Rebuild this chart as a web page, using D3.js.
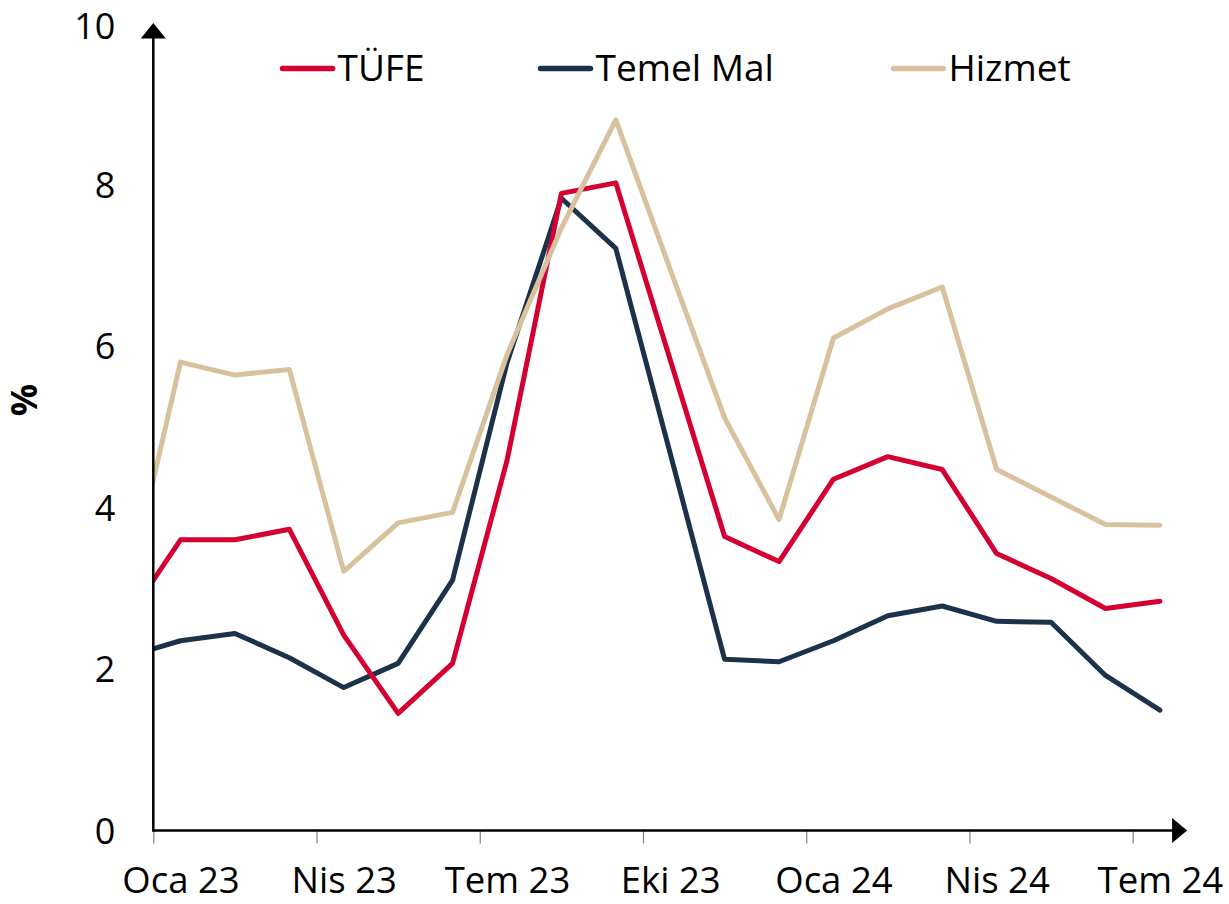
<!DOCTYPE html>
<html><head><meta charset="utf-8">
<script src="https://cdn.jsdelivr.net/npm/d3@7"></script>
<style>
body{margin:0;background:#fff}
svg text{font-family:"Open Sans",sans-serif;fill:#000}
</style>
</head><body>
<svg id="chart" width="1229" height="904"></svg>
<script>
// ---- data ----
const months = ["Ara 22","Oca 23","Şub 23","Mar 23","Nis 23","May 23","Haz 23","Tem 23","Ağu 23","Eyl 23","Eki 23","Kas 23","Ara 23","Oca 24","Şub 24","Mar 24","Nis 24","May 24","Haz 24","Tem 24"];
const tufe     = [2.60, 3.60, 3.60, 3.73, 2.42, 1.45, 2.07, 4.58, 7.89, 8.02, 5.83, 3.64, 3.33, 4.35, 4.63, 4.47, 3.43, 3.12, 2.75, 2.84];
const temelMal = [2.15, 2.35, 2.44, 2.14, 1.77, 2.07, 3.10, 5.79, 7.83, 7.21, 4.67, 2.12, 2.09, 2.35, 2.66, 2.78, 2.59, 2.58, 1.92, 1.49];
const hizmet   = [2.88, 5.80, 5.64, 5.71, 3.21, 3.81, 3.94, 5.89, 7.46, 8.80, 6.95, 5.11, 3.85, 6.10, 6.46, 6.73, 4.47, 4.13, 3.79, 3.78];
const yTicks = [0, 2, 4, 6, 8, 10];
const xLabels = ["Oca 23","Nis 23","Tem 23","Eki 23","Oca 24","Nis 24","Tem 24"];
const seriesNames = ["TÜFE","Temel Mal","Hizmet"];
const seriesColors = ["#D50032","#1C3249","#D8C29E"];
const yTitle = "%";

// ---- scales ----
const svg = d3.select("#chart");
const plotMonths = months.slice(1);             // visible categories (Oca 23 .. Tem 24)
const idx = m => plotMonths.indexOf(m);          // Ara 22 -> -1 (clipped at the axis)
const x = d3.scaleLinear().domain([-0.5, plotMonths.length - 0.5]).range([153.3, 1187.1]);
const y = d3.scaleLinear().domain([0, 10]).range([830.5, 23]);
const x0 = x.range()[0], x1 = x.range()[1];
const yb = y(0), yt = y(10);

// clip lines at the y axis
svg.append("defs").append("clipPath").attr("id","plotclip")
  .append("rect").attr("x", x0).attr("y", 0).attr("width", 1229 - x0).attr("height", 904);

// ---- series lines ----
const line = d3.line().x((d, i) => x(idx(months[i]))).y(d => y(d));
const series = [
  {name: seriesNames[0], values: tufe, color: seriesColors[0]},
  {name: seriesNames[1], values: temelMal, color: seriesColors[1]},
  {name: seriesNames[2], values: hizmet, color: seriesColors[2]}
];
const drawOrder = [series[1], series[0], series[2]];
svg.append("g").attr("clip-path","url(#plotclip)")
  .selectAll("path").data(drawOrder).join("path")
  .attr("d", d => line(d.values))
  .attr("fill","none").attr("stroke", d => d.color)
  .attr("stroke-width", 5).attr("stroke-linejoin","round").attr("stroke-linecap","round");

// ---- x axis ----
const boundaries = d3.range(-0.5, plotMonths.length - 1, 3);
const gxTicks = svg.append("g").attr("transform", `translate(0,${yb})`)
  .call(d3.axisBottom(x).tickValues(boundaries).tickSize(13).tickFormat(""));
gxTicks.select(".domain").remove();
gxTicks.selectAll(".tick line").attr("stroke","#808080").attr("stroke-width",1.2);

const gxLab = svg.append("g").attr("transform", `translate(0,${yb})`)
  .call(d3.axisBottom(x).tickValues(xLabels.map(idx)).tickSize(0).tickFormat(i => plotMonths[i]));
gxLab.select(".domain").remove();
gxLab.selectAll("text").attr("y", 62.5).attr("dy", null)
  .style("font-size","36.5px").attr("font-family", null);

// ---- y axis ----
const gy = svg.append("g").attr("transform", `translate(${x0},0)`)
  .call(d3.axisLeft(y).tickValues(yTicks).tickSize(0).tickPadding(38).tickFormat(d3.format("d")));
gy.select(".domain").remove();
gy.selectAll("text").attr("dy", d => d === 10 ? "0.44em" : "0.36em")
  .style("font-size","36px").attr("font-family", null);

// axis lines with arrows
svg.append("line").attr("x1", x0).attr("x2", x1 - 14).attr("y1", yb).attr("y2", yb)
  .attr("stroke","#000").attr("stroke-width",2.5);
svg.append("path")
  .attr("d", `M${x1},${yb} L${x1 - 15},${yb - 12.5} L${x1 - 15},${yb + 12.5} Z`).attr("fill","#000");
svg.append("line").attr("x1", x0).attr("x2", x0).attr("y1", yb + 1.2).attr("y2", yt + 14)
  .attr("stroke","#000").attr("stroke-width",2.5);
svg.append("path")
  .attr("d", `M${x0},${yt} L${x0 - 12.5},${yt + 15.5} L${x0 + 12.5},${yt + 15.5} Z`).attr("fill","#000");

// y title
svg.append("text").attr("transform","translate(24,400) rotate(-90)")
  .attr("text-anchor","middle").attr("dy","0.36em")
  .style("font-size","36px").style("font-weight","bold").text(yTitle);

// ---- legend ----
const legendX = [280, 538, 891];
const lg = svg.append("g").selectAll("g").data(series).join("g")
  .attr("transform", (d, i) => `translate(${legendX[i]},68.5)`);
lg.append("line").attr("x1", 2.5).attr("x2", 52.5).attr("y1", 0).attr("y2", 0)
  .attr("stroke", d => d.color).attr("stroke-width", 5.5).attr("stroke-linecap","round");
lg.append("text").attr("x", 57.5).attr("y", 12.5).style("font-size","37px").text(d => d.name);
</script>
</body></html>
